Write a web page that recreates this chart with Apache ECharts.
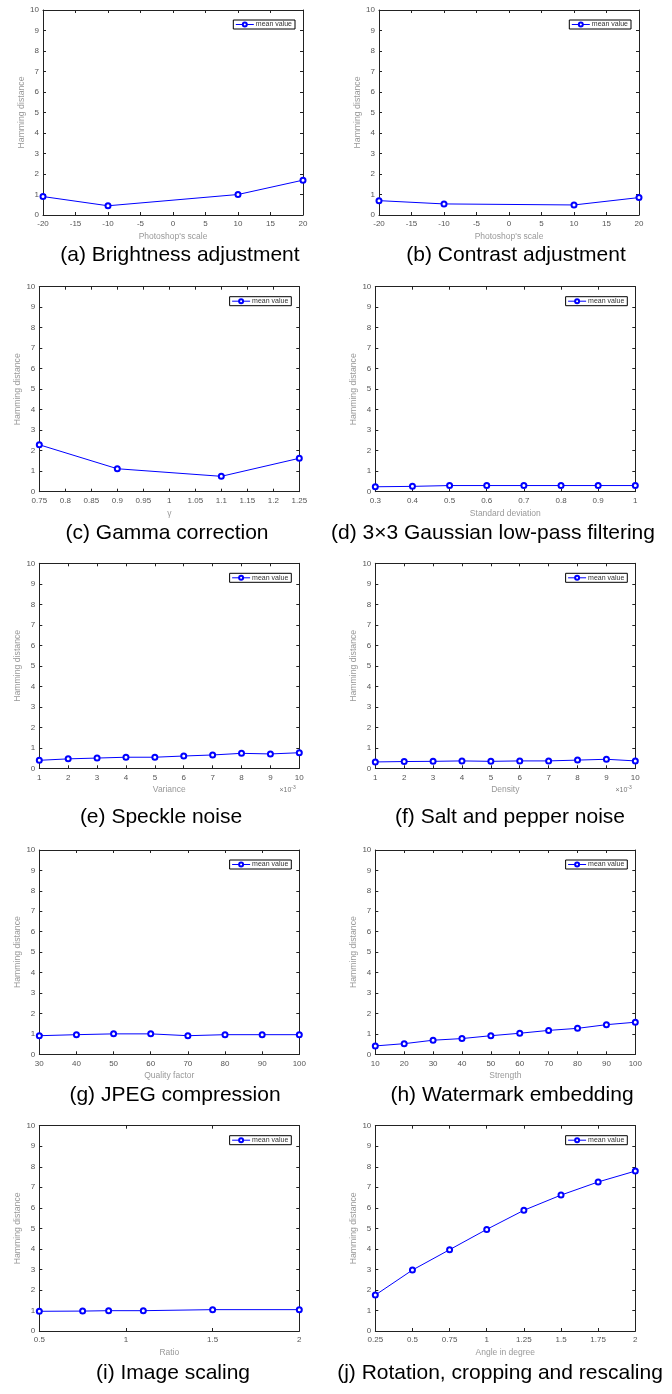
<!DOCTYPE html>
<html><head><meta charset="utf-8">
<script src="https://cdn.jsdelivr.net/npm/echarts@6/dist/echarts.min.js"></script>
<style>html,body{margin:0;padding:0;background:#fff}#c{width:672px;height:1394px}</style>
</head><body><div id="c"></div>
<script>
// ---- data ----
const xA = [-20, -10, 10, 20];
const yA = [0.9, 0.45, 1.0, 1.7];
const xB = [-20, -10, 10, 20];
const yB = [0.70, 0.54, 0.49, 0.85];
const xC = [0.75, 0.9, 1.1, 1.25];
const yC = [2.29, 1.12, 0.75, 1.63];
const xD = [0.3, 0.4, 0.5, 0.6, 0.7, 0.8, 0.9, 1.0];
const yD = [0.24, 0.26, 0.30, 0.30, 0.30, 0.30, 0.30, 0.30];
const xE = [1, 2, 3, 4, 5, 6, 7, 8, 9, 10];
const yE = [0.39, 0.46, 0.50, 0.54, 0.54, 0.60, 0.65, 0.73, 0.70, 0.76];
const xF = [1, 2, 3, 4, 5, 6, 7, 8, 9, 10];
const yF = [0.31, 0.33, 0.34, 0.36, 0.34, 0.36, 0.36, 0.40, 0.44, 0.36];
const xG = [30, 40, 50, 60, 70, 80, 90, 100];
const yG = [0.91, 0.96, 1.0, 1.0, 0.91, 0.96, 0.96, 0.96];
const xH = [10, 20, 30, 40, 50, 60, 70, 80, 90, 100];
const yH = [0.41, 0.52, 0.69, 0.77, 0.91, 1.03, 1.17, 1.27, 1.45, 1.57];
const xI = [0.5, 0.75, 0.9, 1.1, 1.5, 2];
const yI = [0.96, 0.97, 0.99, 0.99, 1.04, 1.04];
const xJ = [0.25, 0.5, 0.75, 1, 1.25, 1.5, 1.75, 2];
const yJ = [1.75, 2.97, 3.96, 4.95, 5.88, 6.62, 7.26, 7.79];

// tick labels
const yTicks = [0, 1, 2, 3, 4, 5, 6, 7, 8, 9, 10];
const xTicksA = [-20, -15, -10, -5, 0, 5, 10, 15, 20];
const xTicksB = [-20, -15, -10, -5, 0, 5, 10, 15, 20];
const xTicksC = [0.75, 0.8, 0.85, 0.9, 0.95, 1, 1.05, 1.1, 1.15, 1.2, 1.25];
const xTicksD = [0.3, 0.4, 0.5, 0.6, 0.7, 0.8, 0.9, 1];
const xTicksE = [1, 2, 3, 4, 5, 6, 7, 8, 9, 10];
const xTicksF = [1, 2, 3, 4, 5, 6, 7, 8, 9, 10];
const xTicksG = [30, 40, 50, 60, 70, 80, 90, 100];
const xTicksH = [10, 20, 30, 40, 50, 60, 70, 80, 90, 100];
const xTicksI = [0.5, 1, 1.5, 2];
const xTicksJ = [0.25, 0.5, 0.75, 1, 1.25, 1.5, 1.75, 2];

const xNames = ["Photoshop's scale", "Photoshop's scale", "\u03b3", "Standard deviation",
  "Variance", "Density", "Quality factor", "Strength", "Ratio", "Angle in degree"];
const captions = ["(a) Brightness adjustment", "(b) Contrast adjustment", "(c) Gamma correction",
  "(d) 3\u00d73 Gaussian low-pass filtering", "(e) Speckle noise", "(f) Salt and pepper noise",
  "(g) JPEG compression", "(h) Watermark embedding", "(i) Image scaling",
  "(j) Rotation, cropping and rescaling"];
const seriesName = "mean value";
const yName = "Hamming distance";

const xs = [xA, xB, xC, xD, xE, xF, xG, xH, xI, xJ];
const ys = [yA, yB, yC, yD, yE, yF, yG, yH, yI, yJ];
const xt = [xTicksA, xTicksB, xTicksC, xTicksD, xTicksE, xTicksF, xTicksG, xTicksH, xTicksI, xTicksJ];
const expo = [false, false, false, false, true, true, false, false, false, false];

// ---- layout ----
const layout = [
  {l: 43, t: 10, w: 260, h: 205, cx: 180, cy: 255},
  {l: 379, t: 10, w: 260, h: 205, cx: 516, cy: 255},
  {l: 39.3, t: 286.7, w: 260, h: 205, cx: 167, cy: 533},
  {l: 375.3, t: 286.7, w: 260, h: 205, cx: 493, cy: 533},
  {l: 39.3, t: 563.3, w: 260, h: 205, cx: 161, cy: 817},
  {l: 375.3, t: 563.3, w: 260, h: 205, cx: 510, cy: 817},
  {l: 39.3, t: 850, w: 260, h: 204.3, cx: 175, cy: 1095},
  {l: 375.3, t: 850, w: 260, h: 204.3, cx: 512, cy: 1095},
  {l: 39.3, t: 1125.7, w: 260, h: 205.3, cx: 173, cy: 1373},
  {l: 375.3, t: 1125.7, w: 260, h: 205.3, cx: 500, cy: 1373}
];

const FONT = "Liberation Sans";
const W = 672;
const grids = [], xAxes = [], yAxes = [], series = [], legends = [], graphics = [];

function fmt(v) { return String(Math.round(v * 1000) / 1000); }

layout.forEach((L, i) => {
  grids.push({left: L.l, top: L.t, width: L.w, height: L.h, containLabel: false});
  const t = xt[i];
  const xmin = t[0], xmax = t[t.length - 1];
  const xint = Math.round((t[1] - t[0]) * 1000) / 1000;
  const axisLine = {show: true, onZero: false, lineStyle: {color: '#222', width: 1}};
  const axisTick = {show: true, inside: true, length: 3, lineStyle: {color: '#222', width: 1}};
  xAxes.push({
    type: 'value', gridIndex: i, position: 'bottom', min: xmin, max: xmax, interval: xint,
    axisLine, axisTick, splitLine: {show: false},
    axisLabel: {margin: 5, fontSize: 8, color: '#555', fontFamily: FONT, formatter: fmt, showMinLabel: true, showMaxLabel: true},
    name: xNames[i], nameLocation: 'middle', nameGap: 17,
    nameTextStyle: {fontSize: 8.5, color: '#999', fontFamily: FONT}
  });
  xAxes.push({
    type: 'value', gridIndex: i, position: 'top', min: xmin, max: xmax, interval: xint,
    axisLine, axisTick, splitLine: {show: false}, axisLabel: {show: false}
  });
  yAxes.push({
    type: 'value', gridIndex: i, position: 'left', min: yTicks[0], max: yTicks[yTicks.length - 1],
    interval: yTicks[1] - yTicks[0],
    axisLine, axisTick, splitLine: {show: false},
    axisLabel: {margin: 4, fontSize: 8, color: '#555', fontFamily: FONT},
    name: yName, nameLocation: 'middle', nameGap: 16,
    nameTextStyle: {fontSize: 8.7, color: '#999', fontFamily: FONT}
  });
  yAxes.push({
    type: 'value', gridIndex: i, position: 'right', min: yTicks[0], max: yTicks[yTicks.length - 1],
    interval: yTicks[1] - yTicks[0],
    axisLine, axisTick, splitLine: {show: false}, axisLabel: {show: false}
  });
  series.push({
    type: 'line', name: seriesName, xAxisIndex: 2 * i, yAxisIndex: 2 * i,
    data: xs[i].map((x, k) => [x, ys[i][k]]),
    symbol: 'emptyCircle', symbolSize: 5, clip: false,
    lineStyle: {color: '#0000ff', width: 1},
    itemStyle: {color: '#0000ff', borderColor: '#0000ff', borderWidth: 1},
    animation: false
  });
  legends.push({
    data: [seriesName], right: W - (L.l + L.w - 8), top: L.t + 10,
    orient: 'horizontal', itemWidth: 18, itemHeight: 5, itemGap: 2,
    padding: [1, 3, 1, 2], borderColor: '#000', borderWidth: 1, backgroundColor: '#fff',
    lineStyle: {width: 1},
    textStyle: {fontSize: 7, color: '#333', fontFamily: FONT, padding: [0, 0, 0, -3]},
    selectedMode: false
  });
  graphics.push({
    type: 'text', x: L.cx, y: L.cy,
    style: {text: captions[i], fontSize: 21, fontFamily: FONT, fill: '#000', align: 'center', verticalAlign: 'middle'}
  });
  if (expo[i]) {
    graphics.push({
      type: 'text', x: L.l + L.w - 8, y: L.t + L.h + 22,
      style: {text: '\u00d710', fontSize: 7, fontFamily: FONT, fill: '#777', align: 'right', verticalAlign: 'middle'}
    });
    graphics.push({
      type: 'text', x: L.l + L.w - 8, y: L.t + L.h + 19,
      style: {text: '-3', fontSize: 5, fontFamily: FONT, fill: '#777', align: 'left', verticalAlign: 'middle'}
    });
  }
});

const chart = echarts.init(document.getElementById('c'), null, {renderer: 'canvas'});
chart.setOption({
  animation: false,
  backgroundColor: '#fff',
  grid: grids, xAxis: xAxes, yAxis: yAxes, series: series, legend: legends,
  graphic: graphics
});
</script>
</body></html>
